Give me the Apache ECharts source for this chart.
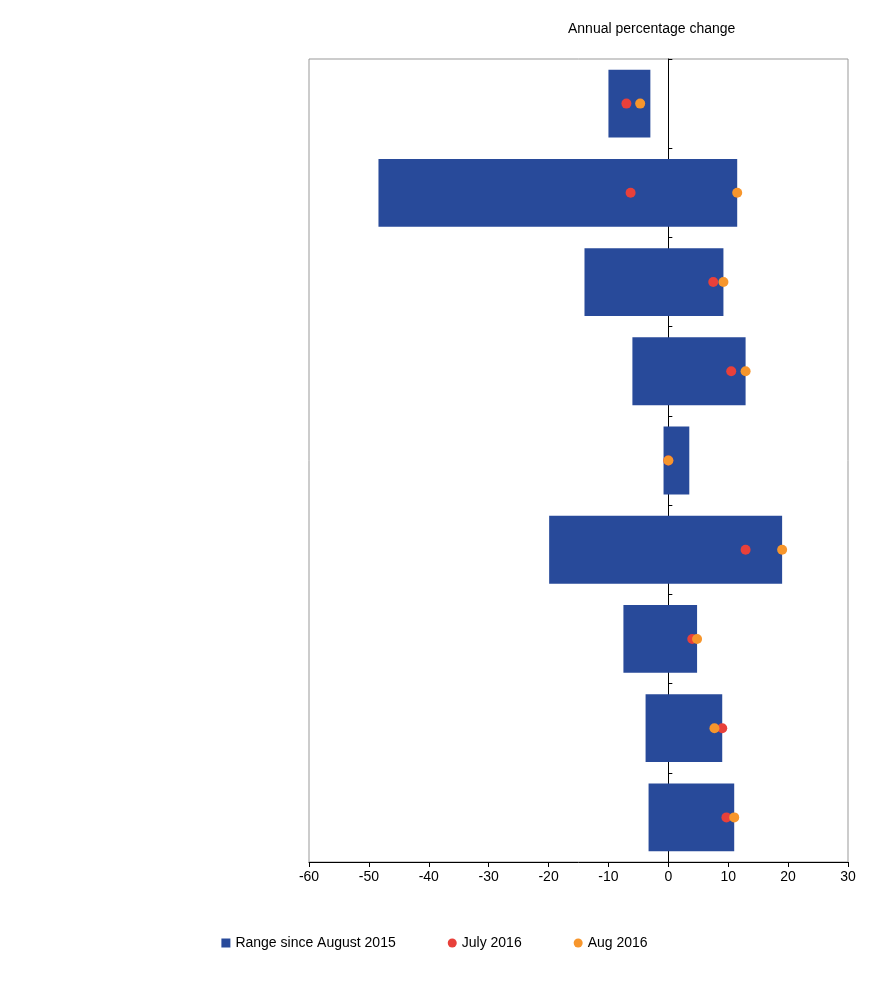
<!DOCTYPE html>
<html>
<head>
<meta charset="UTF-8">
<script src="https://cdn.jsdelivr.net/npm/echarts@6/dist/echarts.min.js"></script>
<style>html,body{margin:0;background:#fff}#c{width:869px;height:993px}</style>
</head>
<body>
<div id="c"></div>
<script>
const categories = ['Fuel including Climate Change Levy', 'Crude oil', 'Home food materials',
  'Imported food materials', 'Other home-produced materials', 'Imported metals',
  'Imported chemicals', 'Imported parts and equipment', 'Other imported materials'];
const rangeMin = [-10.0, -48.4, -14.0, -6.0, -0.8, -19.9, -7.5, -3.8, -3.3];
const rangeMax = [-3.0, 11.5, 9.2, 12.9, 3.5, 19.0, 4.8, 9.0, 11.0];
const july2016 = [-7.0, -6.3, 7.5, 10.5, 0.0, 12.9, 4.0, 9.0, 9.7];
const aug2016 = [-4.7, 11.5, 9.2, 12.9, 0.0, 19.0, 4.8, 7.7, 11.0];

const font = 'Liberation Sans';
const chart = echarts.init(document.getElementById('c'));
chart.setOption({
  animation: false,
  textStyle: { fontFamily: font },
  title: { text: 'Annual percentage change', left: 563, top: 17,
    textStyle: { fontSize: 14, fontWeight: 'normal', color: '#000', fontFamily: font } },
  legend: {
    bottom: 38, left: 'center', itemGap: 52, itemWidth: 9, itemHeight: 9,
    textStyle: { fontSize: 14, color: '#000' },
    data: [{ name: 'Range since August 2015', icon: 'rect' },
      { name: 'July 2016', icon: 'circle' }, { name: 'Aug 2016', icon: 'circle' }]
  },
  grid: { left: 309, right: 21, top: 59, bottom: 131, containLabel: false, outerBoundsMode: 'none',
    show: true, borderColor: '#999', borderWidth: 1 },
  xAxis: {
    type: 'value', min: -60, max: 30, interval: 10,
    axisLine: { show: true, onZero: false, lineStyle: { color: '#000' } },
    axisTick: { show: true, length: 5, inside: false, lineStyle: { color: '#000' } },
    axisLabel: { fontSize: 14, color: '#000', margin: 8 },
    splitLine: { show: false }
  },
  yAxis: {
    type: 'category', data: categories, inverse: true,
    axisLine: { onZero: true, lineStyle: { color: '#000' } },
    axisTick: { show: true, inside: true, length: 4, lineStyle: { color: '#000' } },
    axisLabel: { fontSize: 14, color: '#000', margin: 374 }
  },
  series: [
    {
      name: 'Range since August 2015', type: 'custom', color: '#284a9a',
      encode: { x: [1, 2], y: 0 },
      data: categories.map((c, i) => [i, rangeMin[i], rangeMax[i]]),
      renderItem: function (params, api) {
        const p0 = api.coord([api.value(1), api.value(0)]);
        const p1 = api.coord([api.value(2), api.value(0)]);
        const h = api.size([0, 1])[1] * 0.76;
        return { type: 'rect', shape: { x: p0[0], y: p0[1] - h / 2, width: p1[0] - p0[0], height: h },
          style: { fill: '#284a9a' } };
      },
      z: 1
    },
    { name: 'July 2016', type: 'scatter', symbolSize: 10, color: '#e8403a',
      itemStyle: { opacity: 1 }, data: july2016.map((v, i) => [v, i]), z: 3 },
    { name: 'Aug 2016', type: 'scatter', symbolSize: 10, color: '#f7962c',
      itemStyle: { opacity: 1 }, data: aug2016.map((v, i) => [v, i]), z: 4 }
  ]
});
</script>
</body>
</html>
